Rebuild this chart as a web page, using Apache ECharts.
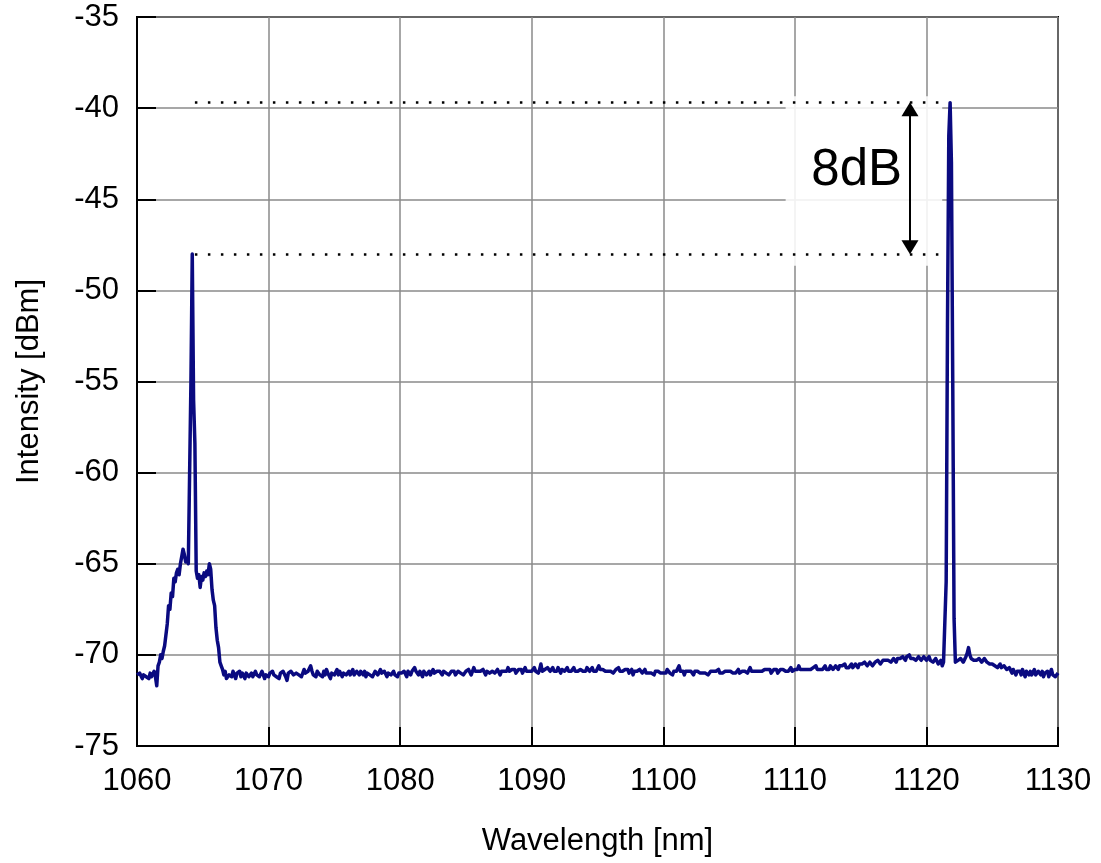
<!DOCTYPE html>
<html>
<head>
<meta charset="utf-8">
<script src="https://cdn.jsdelivr.net/npm/echarts@6/dist/echarts.min.js"></script>
<style>
  html, body { margin: 0; padding: 0; background: #fff; }
  #chart { width: 1101px; height: 863px; }
</style>
</head>
<body>
<div id="chart"></div>
<script>
// Optical spectrum: wavelength grid (nm) and measured intensity (dBm)
const wavelengthStart = 1060;
const wavelengthStep = 0.1;
const intensity = [
  // 1060
  -71.1,-71.2,-71.0,-71.1,-71.3,-71.1,-71.0,-71.2,-71.1,-71.3,
  -71.0,-71.2,-71.1,-70.9,-71.2,-71.7,-70.6,-70.4,-70.0,-70.2,
  -69.8,-69.5,-69.4,-68.3,-67.3,-67.5,-66.6,-66.8,-65.8,-66.0,
  -65.5,-65.3,-65.6,-65.0,-64.6,-64.2,-64.5,-64.9,-64.7,-65.0,
  -64.9,-55.0,-48.0,-56.0,-58.4,-65.4,-65.8,-65.6,-66.3,-65.7,
  -65.9,-65.5,-65.7,-65.4,-65.6,-65.0,-65.3,-66.4,-67.0,-67.3,
  -68.5,-69.2,-69.6,-70.4,-70.6,-70.8,-71.1,-70.9,-71.3,-71.4,
  -71.1,-71.0,-71.2,-70.9,-71.1,-71.3,-71.0,-71.1,-70.9,-71.2,
  -71.0,-71.1,-71.3,-71.0,-70.9,-71.2,-71.1,-71.0,-71.2,-71.1,
  -70.9,-71.1,-71.0,-71.2,-71.1,-70.9,-71.0,-71.3,-71.1,-71.0,
  // 1070
  -71.2,-71.0,-71.1,-70.9,-71.1,-71.0,-71.2,-71.1,-71.3,-71.0,
  -71.1,-70.9,-71.0,-71.2,-71.4,-71.0,-71.1,-70.9,-71.0,-71.1,
  -71.2,-71.0,-70.9,-71.1,-71.0,-71.2,-71.1,-70.8,-71.0,-71.1,
  -70.9,-71.0,-70.6,-70.9,-71.1,-71.0,-71.2,-70.9,-71.0,-71.1,
  -71.0,-71.2,-70.9,-71.1,-70.8,-71.0,-71.1,-71.3,-71.0,-70.9,
  -71.1,-71.0,-70.8,-71.1,-70.9,-71.0,-71.2,-71.0,-70.9,-71.1,
  -71.0,-70.9,-71.1,-71.0,-70.8,-71.1,-71.2,-70.9,-71.0,-71.1,
  -70.9,-71.0,-71.1,-70.9,-71.2,-71.0,-70.9,-71.1,-71.0,-71.2,
  -71.1,-70.9,-71.0,-71.1,-71.0,-70.8,-71.0,-71.1,-70.9,-71.0,
  -71.2,-71.0,-70.9,-71.1,-71.0,-70.9,-71.1,-71.0,-71.2,-71.0,
  // 1080
  -70.9,-71.0,-71.1,-70.9,-71.0,-71.2,-70.9,-71.0,-71.1,-70.9,
  -71.0,-70.7,-70.9,-71.0,-71.1,-70.9,-71.0,-71.2,-70.9,-71.0,
  -71.1,-71.0,-70.9,-71.1,-71.0,-70.8,-71.0,-71.1,-70.9,-71.0,
  -70.9,-71.0,-71.1,-70.9,-70.8,-71.0,-70.9,-71.1,-71.0,-70.9,
  -71.0,-70.9,-71.1,-71.0,-70.9,-70.8,-71.0,-70.9,-71.1,-71.0,
  -70.9,-71.0,-70.8,-70.9,-71.1,-70.9,-70.7,-70.9,-71.0,-70.9,
  -70.8,-70.9,-71.0,-70.8,-70.9,-71.1,-70.9,-70.8,-71.0,-70.9,
  -70.9,-70.8,-71.0,-70.9,-70.8,-70.9,-71.1,-70.9,-70.8,-70.9,
  -70.8,-70.9,-70.7,-70.9,-71.0,-70.8,-70.9,-70.8,-71.0,-70.9,
  -70.8,-70.9,-70.8,-71.0,-70.9,-70.7,-70.9,-70.8,-70.9,-70.8,
  // 1090
  -70.9,-70.8,-70.7,-70.9,-70.8,-71.0,-70.8,-70.5,-70.9,-70.8,
  -70.8,-70.9,-70.7,-70.8,-70.9,-70.8,-70.7,-70.9,-70.8,-70.9,
  -70.7,-70.8,-71.0,-70.8,-70.7,-70.9,-70.8,-70.7,-70.9,-70.8,
  -70.9,-70.8,-70.7,-70.9,-70.8,-70.9,-71.0,-70.8,-70.7,-70.9,
  -70.8,-70.9,-70.7,-70.8,-70.9,-70.8,-70.7,-70.9,-70.8,-70.9,
  -70.8,-70.6,-70.8,-70.9,-70.8,-70.7,-70.9,-70.8,-70.9,-70.8,
  -70.9,-70.8,-71.0,-70.9,-70.8,-70.9,-70.7,-70.9,-70.8,-70.9,
  -71.0,-70.8,-70.9,-70.8,-71.0,-70.9,-70.8,-71.1,-70.9,-70.8,
  -70.9,-71.0,-70.8,-70.9,-71.0,-70.9,-70.8,-71.0,-70.9,-71.0,
  -70.9,-71.0,-70.9,-71.1,-70.9,-71.0,-70.9,-70.8,-71.0,-70.9,
  // 1100
  -71.0,-70.9,-71.0,-70.8,-70.9,-71.0,-70.9,-71.1,-70.9,-71.0,
  -70.9,-71.0,-70.6,-70.9,-71.0,-70.9,-71.1,-70.9,-71.0,-70.9,
  -71.0,-70.9,-71.0,-71.1,-70.9,-71.0,-70.9,-70.8,-71.0,-70.9,
  -71.0,-70.9,-71.0,-70.9,-71.1,-71.0,-70.9,-71.0,-70.9,-71.0,
  -70.9,-71.0,-70.8,-71.0,-70.9,-71.0,-71.1,-70.9,-71.0,-70.9,
  -71.0,-70.9,-70.8,-71.0,-70.9,-71.0,-70.9,-70.8,-71.0,-70.9,
  -70.9,-71.0,-70.9,-70.8,-71.0,-70.9,-70.7,-70.9,-71.0,-70.9,
  -70.8,-70.9,-71.0,-70.9,-70.8,-70.9,-71.0,-70.8,-70.9,-70.8,
  -70.9,-70.8,-71.0,-70.9,-70.8,-70.9,-70.8,-71.0,-70.9,-70.8,
  -70.9,-70.8,-70.7,-70.9,-70.8,-70.9,-70.8,-70.7,-70.9,-70.8,
  // 1110
  -70.8,-70.9,-70.8,-70.6,-70.8,-70.9,-70.8,-70.7,-70.8,-70.9,
  -70.8,-70.7,-70.8,-70.9,-70.7,-70.8,-70.6,-70.8,-70.7,-70.8,
  -70.7,-70.8,-70.7,-70.6,-70.8,-70.7,-70.8,-70.6,-70.7,-70.8,
  -70.7,-70.6,-70.7,-70.8,-70.6,-70.7,-70.6,-70.7,-70.5,-70.7,
  -70.6,-70.7,-70.6,-70.5,-70.7,-70.6,-70.5,-70.6,-70.7,-70.5,
  -70.6,-70.5,-70.6,-70.4,-70.5,-70.6,-70.5,-70.4,-70.5,-70.6,
  -70.5,-70.4,-70.5,-70.3,-70.4,-70.5,-70.4,-70.3,-70.4,-70.3,
  -70.4,-70.3,-70.2,-70.4,-70.3,-70.2,-70.3,-70.4,-70.2,-70.3,
  -70.2,-70.3,-70.1,-70.2,-70.3,-70.1,-70.2,-70.0,-70.2,-70.3,
  -70.2,-70.1,-70.3,-70.2,-70.1,-70.2,-70.3,-70.2,-70.1,-70.2,
  // 1120
  -70.3,-70.2,-70.1,-70.3,-70.2,-70.4,-70.3,-70.2,-70.3,-70.5,
  -70.4,-70.3,-70.6,-70.4,-70.5,-66.0,-52.0,-41.5,-39.7,-43.0,
  -55.0,-68.0,-70.4,-70.5,-70.3,-70.4,-70.2,-70.3,-70.4,-70.3,
  -70.1,-69.9,-69.6,-70.0,-70.2,-70.1,-70.3,-70.2,-70.3,-70.4,
  -70.2,-70.3,-70.4,-70.3,-70.2,-70.3,-70.4,-70.3,-70.5,-70.4,
  -70.5,-70.4,-70.6,-70.5,-70.7,-70.6,-70.5,-70.7,-70.8,-70.6,
  -70.7,-70.8,-70.9,-70.7,-70.8,-71.0,-70.8,-70.9,-71.1,-70.9,
  -71.0,-70.9,-71.1,-70.8,-71.0,-71.2,-70.9,-71.0,-71.1,-70.9,
  -71.1,-71.0,-70.8,-71.1,-71.2,-70.9,-71.0,-71.1,-70.9,-71.2,
  -71.0,-71.1,-70.9,-71.2,-71.0,-70.8,-71.1,-71.0,-71.2,-71.1,
  // 1130
  -71.0
];

// Axis ranges and tick spacing
const xRange = [1060, 1130];
const xTickStep = 10;
const yRange = [-75, -35];
const yTickStep = 5;

// Peak-to-peak annotation: the two lasing lines and the quoted difference
const leftPeakNm = 1064.2;
const rightPeakNm = 1121.8;
const peakDiffLabel = '8dB';

const spectrum = intensity.map((v, i) => [
  +(wavelengthStart + i * wavelengthStep).toFixed(1), v
]);
const peakAt = nm => spectrum.reduce((best, p) =>
  Math.abs(p[0] - nm) < Math.abs(best[0] - nm) ? p : best)[1];
const leftPeak = peakAt(leftPeakNm);
const rightPeak = peakAt(rightPeakNm);

// Annotation geometry in data units
const guideStartNm = 1064.4;
const guideEndNm = 1121.5;
const arrowNm = 1118.75;
const arrowHeadDb = 0.36;
const boxFromNm = 1109.3, boxToNm = 1121.2;
const labelNm = 1114.7;

const FONT = 'Liberation Sans, Arial, Helvetica, sans-serif';

const chart = echarts.init(document.getElementById('chart'));
chart.setOption({
  animation: false,
  backgroundColor: '#fff',
  grid: {
    left: 137, top: 17, right: 43, bottom: 117,
    show: true, borderColor: '#000', borderWidth: 2, backgroundColor: 'transparent'
  },
  xAxis: {
    type: 'value', min: xRange[0], max: xRange[1], interval: xTickStep,
    name: 'Wavelength [nm]', nameLocation: 'middle', nameGap: 80,
    nameTextStyle: { fontFamily: FONT, fontSize: 31, color: '#000' },
    axisLine: { lineStyle: { color: '#000', width: 2 } },
    axisTick: { inside: true, length: 19, lineStyle: { color: '#000', width: 2 } },
    axisLabel: { fontFamily: FONT, fontSize: 31, color: '#000', margin: 20,
                 formatter: v => String(v) },
    splitLine: { lineStyle: { color: '#8a8a8a', width: 1.5 } }
  },
  yAxis: {
    type: 'value', min: yRange[0], max: yRange[1], interval: yTickStep,
    name: 'Intensity [dBm]', nameLocation: 'middle', nameGap: 92,
    nameTextStyle: { fontFamily: FONT, fontSize: 31, color: '#000' },
    axisLine: { lineStyle: { color: '#000', width: 2 } },
    axisTick: { inside: true, length: 19, lineStyle: { color: '#000', width: 2 } },
    axisLabel: { fontFamily: FONT, fontSize: 31, color: '#000', margin: 18,
                 formatter: v => String(v) },
    splitLine: { lineStyle: { color: '#8a8a8a', width: 1.5 } }
  },
  series: [
    {
      type: 'line',
      data: spectrum,
      showSymbol: false,
      symbol: 'none',
      silent: true,
      lineStyle: { color: '#0a0a80', width: 3.5, join: 'round' },
      z: 4
    },
    {
      // white backing behind the level-difference annotation
      type: 'line', data: [], silent: true, z: 3,
      markArea: {
        silent: true,
        itemStyle: { color: 'rgba(255,255,255,0.88)' },
        data: [[
          { coord: [boxFromNm, rightPeak + 0.35] },
          { coord: [boxToNm, leftPeak - 0.65] }
        ]]
      }
    },
    {
      // dotted reference levels, double arrow and label
      type: 'line', data: [], silent: true, z: 5,
      markLine: {
        silent: true,
        symbol: 'none',
        label: { show: false },
        lineStyle: { color: '#000', width: 2.5, type: [2.5, 10.5] },
        data: [
          [{ coord: [guideStartNm, rightPeak] }, { coord: [guideEndNm, rightPeak] }],
          [{ coord: [guideStartNm, leftPeak] }, { coord: [guideEndNm, leftPeak] }],
          [
            { coord: [arrowNm, rightPeak - arrowHeadDb], symbol: 'triangle', symbolSize: [17, 14],
              lineStyle: { type: 'solid', width: 2, color: '#000' } },
            { coord: [arrowNm, leftPeak + arrowHeadDb], symbol: 'triangle', symbolSize: [17, 14] }
          ]
        ]
      },
      markPoint: {
        silent: true,
        symbol: 'circle', symbolSize: 0,
        label: {
          show: true, position: 'inside', formatter: peakDiffLabel,
          fontFamily: FONT, fontSize: 51, color: '#000'
        },
        data: [{ coord: [labelNm, (rightPeak + leftPeak) / 2 + 0.4] }]
      }
    }
  ]
});
</script>
</body>
</html>
